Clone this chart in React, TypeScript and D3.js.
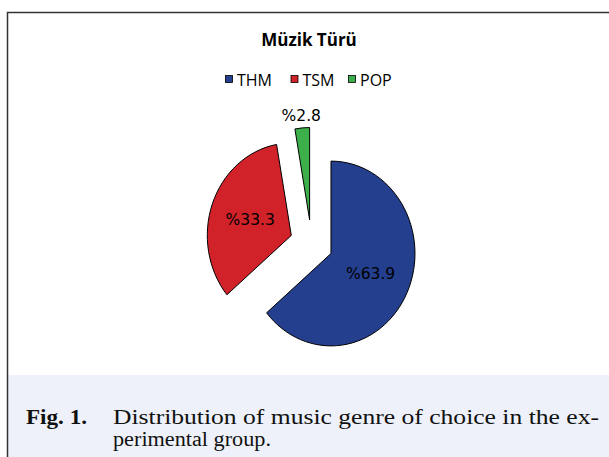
import React from 'react'
import * as d3 from 'd3'

const categories = ['THM', 'TSM', 'POP']
const shares = [63.9, 33.3, 2.8]
const colors = ['#243f8e', '#d1222a', '#3daf4a']
const chartTitle = 'Müzik Türü'
const captionLead = 'Fig. 1.'
const captionLines = ['Distribution of music genre of choice in the ex-', 'perimental group.']

const W = 609
const H = 457

export default function App () {
  const cx = 311.5
  const cy = 243.5
  const r = 84
  const sy = 1.1
  const explode = 21.5

  const pie = d3.pie<number>().sort(null).startAngle(0).endAngle(2 * Math.PI)
  const slices = pie(shares)
  const arc = d3.arc<d3.PieArcDatum<number>>().innerRadius(0).outerRadius(r)

  // legend layout
  const legendX = [225, 290.5, 348]

  return (
    <svg width={W} height={H} style={{ position: 'absolute', left: 0, top: 0 }}>
      <rect x={0} y={0} width={W} height={H} fill='#fff' />
      <rect x={7} y={375} width={W - 7} height={H - 375} fill='#eef1f9' />
      <path d={`M7.5,${H} V12.5 H${W}`} fill='none' stroke='#333' strokeWidth={1.5} />

      <text x={309} y={45.5} textAnchor='middle' fontFamily='"Open Sans", sans-serif' fontWeight='bold' fontSize={17} fill='#000'>{chartTitle}</text>

      {categories.map((c, i) => (
        <g key={c}>
          <rect x={legendX[i] + 0.5} y={75.5} width={7} height={7} fill={colors[i]} stroke='#000' strokeWidth={0.8} />
          <text x={legendX[i] + 12} y={85.7} fontFamily='"Open Sans", sans-serif' fontSize={16} fill='#000'>{c}</text>
        </g>
      ))}

      {slices.map((s, i) => {
        const mid = (s.startAngle + s.endAngle) / 2
        const dx = explode * Math.sin(mid)
        const dy = -explode * Math.cos(mid) * sy
        return (
          <g key={categories[i]} transform={`translate(${cx + dx},${cy + dy}) scale(1,${sy})`}>
            <path d={arc(s) || ''} fill={colors[i]} stroke='#000' strokeWidth={1} vectorEffect='non-scaling-stroke' />
          </g>
        )
      })}

      {slices.map((s, i) => {
        const mid = (s.startAngle + s.endAngle) / 2
        const dx = explode * Math.sin(mid)
        const dy = -explode * Math.cos(mid) * sy
        const small = (s.endAngle - s.startAngle) < 0.3
        const lr = small ? r + 11 : r * 0.52
        const lx = cx + dx + lr * Math.sin(mid)
        const ly = cy + dy - lr * Math.cos(mid) * sy
        return (
          <text key={'l' + i} x={lx} y={ly} dy='0.36em' textAnchor='middle' fontFamily='"DejaVu Sans", sans-serif' fontSize={15.5} fill='#000'>
            {'%' + shares[i]}
          </text>
        )
      })}

      <text x={26} y={423.5} fontFamily='"Liberation Serif", serif' fontWeight='bold' fontSize={20} fill='#111' textLength={61} lengthAdjust='spacingAndGlyphs'>{captionLead}</text>
      <text x={113} y={423.5} fontFamily='"Liberation Serif", serif' fontSize={20} fill='#111' textLength={486} lengthAdjust='spacingAndGlyphs'>{captionLines[0]}</text>
      <text x={113} y={446} fontFamily='"Liberation Serif", serif' fontSize={20} fill='#111' textLength={158} lengthAdjust='spacingAndGlyphs'>{captionLines[1]}</text>
    </svg>
  )
}
